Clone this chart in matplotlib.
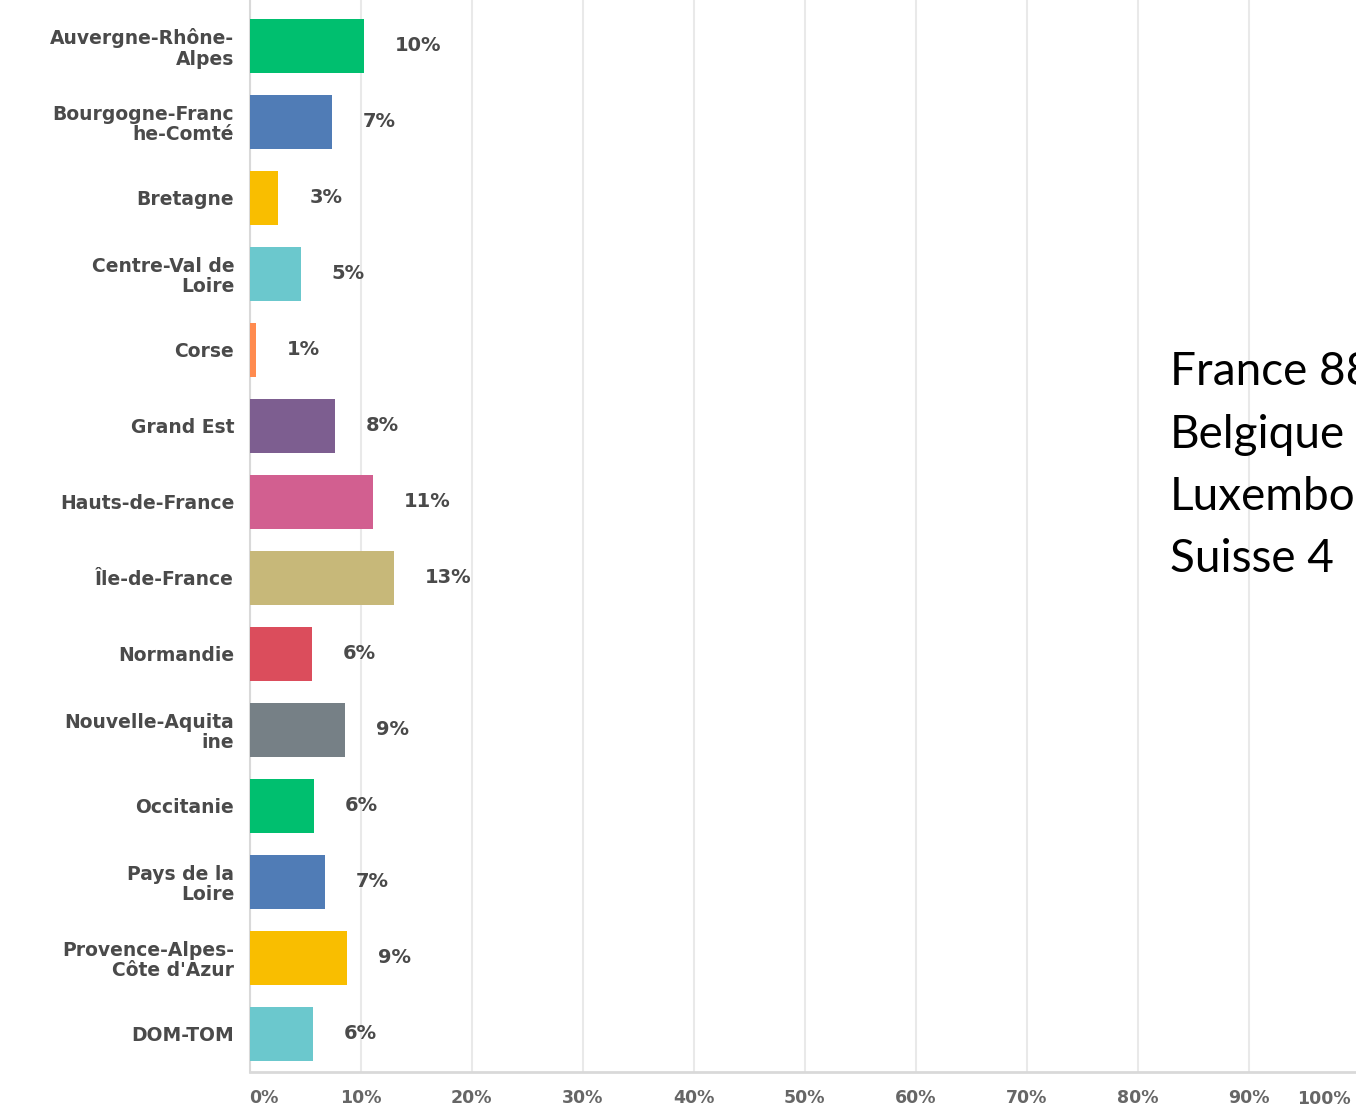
import matplotlib
matplotlib.use('Agg')
import matplotlib.pyplot as plt

# ── DATA ──
regions = [
    'Auvergne-Rhône-\nAlpes', 'Bourgogne-Franc\nhe-Comté', 'Bretagne',
    'Centre-Val de\nLoire', 'Corse', 'Grand Est', 'Hauts-de-France',
    'Île-de-France', 'Normandie', 'Nouvelle-Aquita\nine', 'Occitanie',
    'Pays de la\nLoire', 'Provence-Alpes-\nCôte d\'Azur', 'DOM-TOM',
]
shares = [10.3, 7.4, 2.6, 4.6, 0.6, 7.7, 11.1, 13.0, 5.6, 8.6, 5.8, 6.8, 8.8, 5.7]
xticks = [0, 10, 20, 30, 40, 50, 60, 70, 80, 90, 100]
side_lines = ['France 88', 'Belgique', 'Luxembourg', 'Suisse 4']

# ── PALETTE ──
PALETTE = ['#00BF6F', '#507CB6', '#F9BE00', '#6BC8CD', '#FF8B4F',
           '#7D5E90', '#D25F90', '#C7B879', '#DB4D5C', '#768086']
TXT = '#4a4a4a'
GRID = '#e9e9e9'

fig = plt.figure(figsize=(13.56, 11.08), dpi=100)
fig.patch.set_facecolor('white')
ax = fig.add_axes([249.5 / 1356, 36 / 1108, (1360 - 249.5) / 1356, 1072 / 1108])

ypos = list(range(len(regions)))
colors = [PALETTE[i % len(PALETTE)] for i in ypos]
ax.barh(ypos, shares, height=0.71, color=colors, zorder=3)

for y, v in zip(ypos, shares):
    ax.annotate(f'{v:.0f}%', xy=(v, y), xytext=(31, 0), textcoords='offset pixels',
                va='center', ha='left', fontsize=14, fontweight='bold', color=TXT)

ax.set_ylim(13.5, -0.605)
ax.set_xlim(0, 100)
ax.set_yticks(ypos)
ax.set_yticklabels(regions, fontsize=13.5, fontweight='bold', color=TXT,
                   linespacing=1.1)

# last tick label is drawn by hand so it can sit inside the figure edge
tick_txt = [f'{t}%' for t in xticks]
ax.set_xticks(xticks)
ax.set_xticklabels(tick_txt[:-1] + [''], fontsize=12.5, fontweight='bold',
                   color='#666666')
ax.get_xticklabels()[0].set_horizontalalignment('left')
ax.annotate(tick_txt[-1], xy=(xticks[-1], 0), xycoords=('data', 'axes fraction'),
            xytext=(-9, -18), textcoords='offset pixels', ha='right', va='top',
            fontsize=12.5, fontweight='bold', color='#666666', annotation_clip=False)
ax.tick_params(axis='y', length=0, pad=11)
ax.tick_params(axis='x', length=0, pad=12)

ax.grid(axis='x', color=GRID, linewidth=1.5, zorder=0)
for s in ['top', 'right']:
    ax.spines[s].set_visible(False)
ax.spines['left'].set_color('#d9d9d9')
ax.spines['bottom'].set_color('#d9d9d9')
ax.spines['left'].set_linewidth(1.5)
ax.spines['bottom'].set_linewidth(2)

# ── SIDE NOTE ──
for i, line in enumerate(side_lines):
    fig.text(1170 / 1356, 1 - (385 + i * 62.5) / 1108, line, fontsize=33,
             family='Lato', color='black', va='baseline', ha='left')

fig.savefig('out.png', dpi=100, facecolor='white')
